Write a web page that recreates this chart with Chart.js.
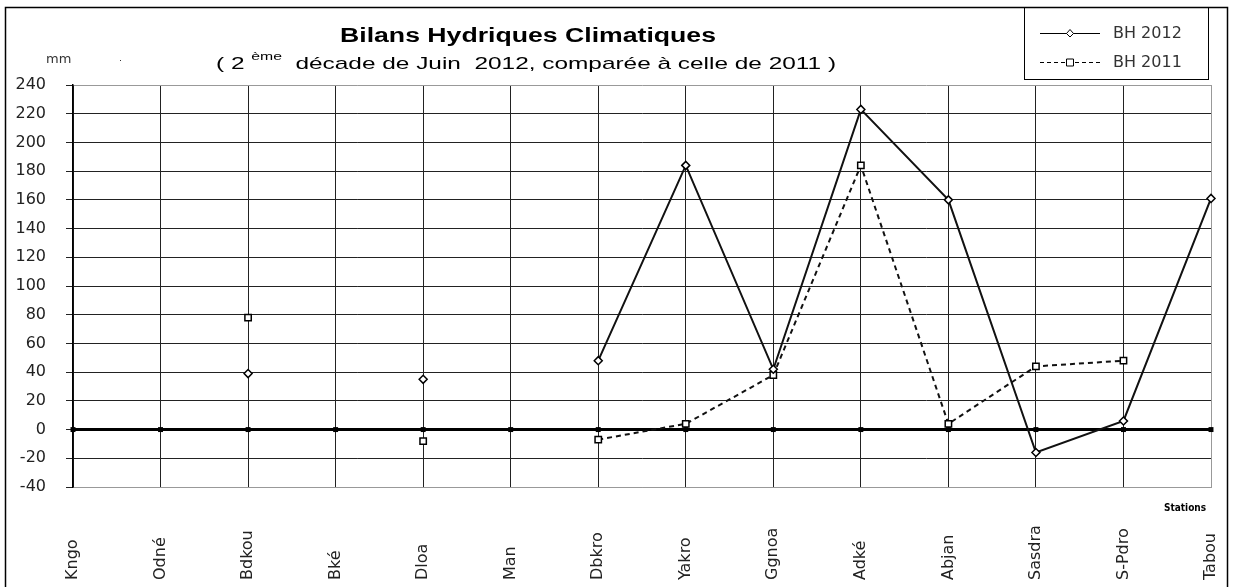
<!DOCTYPE html>
<html>
<head>
<meta charset="utf-8">
<script src="https://cdn.jsdelivr.net/npm/chart.js@4.4.0/dist/chart.umd.min.js"></script>
<style>
    html, body { margin: 0; padding: 0; background: #fff; }
    #wrap { width: 1234px; height: 587px; }
</style>
</head>
<body>
<div id="wrap"><canvas id="lineChart" width="1234" height="587"></canvas></div>
<script>
const stations = ['Kngo', 'Odné', 'Bdkou', 'Bké', 'Dloa', 'Man', 'Dbkro', 'Yakro', 'Ggnoa', 'Adké', 'Abjan', 'Sasdra', 'S-Pdro', 'Tabou'];
const bh2012 = [null, null, 39, null, 35, null, 48, 184, 42, 223, 160, -16, 6, 161];
const bh2011 = [null, null, 78, null, -8, null, -7, 4, 38, 184, 4, 44, 48, null];
const zeroLine = [0, 0, 0, 0, 0, 0, 0, 0, 0, 0, 0, 0, 0, 0];
const yMin = -40, yMax = 240, yStep = 20;

const FONT = '"Liberation Sans", Arial, sans-serif';
const WIDE = '"DejaVu Sans", sans-serif';

// titles, legend box, rotated station names, frame
const decor = {
    id: 'decor',
    afterDraw(chart) {
        const ctx = chart.ctx;
        const x = chart.scales.x;
        ctx.save();

        // outer frame
        ctx.strokeStyle = '#000';
        ctx.lineWidth = 1.5;
        ctx.strokeRect(5.5, 7.5, 1222, 600);

        // title (the original is stretched sideways)
        ctx.fillStyle = '#000';
        ctx.textBaseline = 'alphabetic';
        ctx.textAlign = 'left';
        ctx.font = 'bold 20px ' + FONT;
        const t = 'Bilans Hydriques Climatiques';
        let k = 376 / ctx.measureText(t).width;
        ctx.save();
        ctx.translate(340, 42);
        ctx.scale(k, 1);
        ctx.fillText(t, 0, 0);
        ctx.restore();

        // subtitle with superscript
        const big = '17px ' + FONT, small = '11px ' + FONT;
        const p1 = '( 2 ', p2 = 'ème', p3 = '  décade de Juin  2012, comparée à celle de 2011 )';
        ctx.font = big;
        const w1 = ctx.measureText(p1).width, w3 = ctx.measureText(p3).width;
        ctx.font = small;
        const w2 = ctx.measureText(p2).width;
        k = 620 / (w1 + w2 + w3);
        ctx.save();
        ctx.translate(216, 69);
        ctx.scale(k, 1);
        ctx.font = big;
        ctx.fillText(p1, 0, 0);
        ctx.font = small;
        ctx.fillText(p2, w1, -9);
        ctx.font = big;
        ctx.fillText(p3, w1 + w2, 0);
        ctx.restore();

        // unit
        ctx.font = '13px ' + WIDE;
        ctx.fillStyle = '#333';
        ctx.fillText('mm', 46, 63);
        ctx.fillRect(120, 60, 1, 1);

        // legend
        ctx.strokeStyle = '#000';
        ctx.lineWidth = 1;
        ctx.strokeRect(1024.5, 7.5, 184, 72);
        ctx.font = '16px ' + WIDE;
        ctx.textBaseline = 'middle';
        const rows = [{ y: 33, dash: [], label: 'BH 2012', rot: true }, { y: 62, dash: [4, 3], label: 'BH 2011', rot: false }];
        rows.forEach(r => {
            ctx.setLineDash(r.dash);
            ctx.lineWidth = 1;
            ctx.strokeStyle = '#000';
            ctx.beginPath();
            ctx.moveTo(1040, r.y + 0.5);
            ctx.lineTo(1100, r.y + 0.5);
            ctx.stroke();
            ctx.setLineDash([]);
            ctx.fillStyle = '#fff';
            ctx.beginPath();
            if (r.rot) {
                ctx.moveTo(1070, r.y - 3.5);
                ctx.lineTo(1073.5, r.y + 0.5);
                ctx.lineTo(1070, r.y + 4);
                ctx.lineTo(1066.5, r.y + 0.5);
                ctx.closePath();
            } else {
                ctx.rect(1066.5, r.y - 3, 7, 7);
            }
            ctx.fill();
            ctx.stroke();
            ctx.fillStyle = '#333';
            ctx.fillText(r.label, 1113, r.y + 1);
        });

        // station names
        ctx.font = '16px ' + WIDE;
        ctx.fillStyle = '#222';
        ctx.textAlign = 'left';
        ctx.textBaseline = 'middle';
        stations.forEach((s, i) => {
            ctx.save();
            ctx.translate(x.getPixelForValue(i), 580);
            ctx.rotate(-Math.PI / 2);
            ctx.fillText(s, 0, 0);
            ctx.restore();
        });

        ctx.font = 'bold 10px "Liberation Sans Narrow", "DejaVu Sans Condensed", sans-serif';
        ctx.fillStyle = '#000';
        ctx.textAlign = 'center';
        ctx.fillText('Stations', 1185, 508);
        ctx.restore();
    }
};

const ctx = document.getElementById('lineChart').getContext('2d');
const myChart = new Chart(ctx, {
    type: 'line',
    plugins: [decor],
    data: {
        labels: stations,
        datasets: [
            {
                label: 'BH 2012',
                data: bh2012,
                borderColor: '#111',
                borderWidth: 2,
                pointStyle: 'rectRot',
                pointRadius: 4,
                pointBackgroundColor: '#fff',
                pointBorderColor: '#000',
                pointBorderWidth: 1.5,
                spanGaps: false,
                tension: 0,
                clip: false,
                order: 1
            },
            {
                label: 'BH 2011',
                data: bh2011,
                borderColor: '#111',
                borderWidth: 2,
                borderDash: [5, 4],
                pointStyle: 'rect',
                pointRadius: 4.5,
                pointBackgroundColor: '#fff',
                pointBorderColor: '#000',
                pointBorderWidth: 1.5,
                spanGaps: false,
                tension: 0,
                clip: false,
                order: 2
            },
            {
                label: 'zero',
                data: zeroLine,
                borderColor: '#000',
                borderWidth: 3,
                pointStyle: 'rect',
                pointRadius: 3.5,
                pointBackgroundColor: '#000',
                pointBorderWidth: 0,
                clip: false,
                order: 3
            }
        ]
    },
    options: {
        responsive: false,
        animation: false,
        devicePixelRatio: 1,
        layout: { padding: { top: 85, right: 23, left: 0, bottom: 0 } },
        plugins: {
            legend: { display: false },
            title: { display: false },
            tooltip: { enabled: false }
        },
        scales: {
            x: {
                type: 'category',
                offset: false,
                ticks: { display: false },
                grid: {
                    drawTicks: false,
                    color: c => c.index === stations.length - 1 ? '#999' : '#222',
                    lineWidth: 1
                },
                border: { color: '#999', width: 1 },
                afterFit: s => { s.height = 100; }
            },
            y: {
                min: yMin,
                max: yMax,
                ticks: {
                    stepSize: yStep,
                    color: '#222',
                    padding: 20,
                    font: { size: 16, family: WIDE }
                },
                grid: {
                    color: c => (c.tick && (c.tick.value === yMax || c.tick.value === yMin)) ? '#999' : '#222',
                    tickColor: '#222',
                    tickLength: 7,
                    lineWidth: 1
                },
                border: { color: '#000', width: 1.5 },
                afterFit: s => { s.width = 73; }
            }
        }
    }
});
</script>
</body>
</html>
